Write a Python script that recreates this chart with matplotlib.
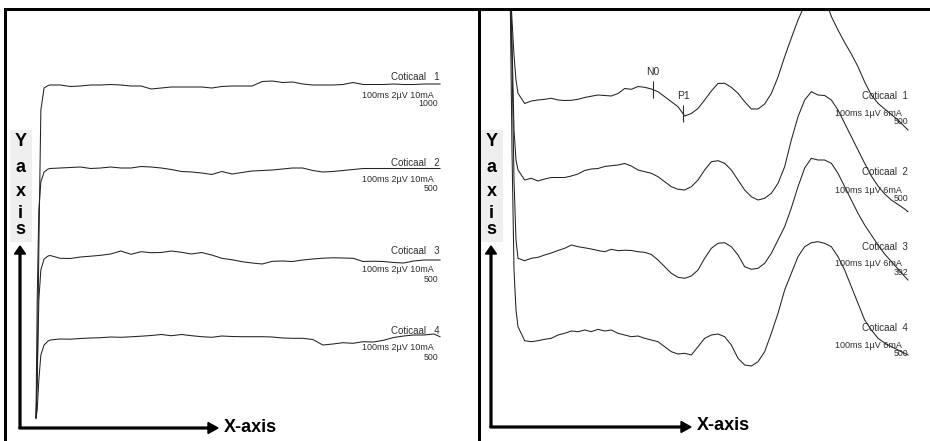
import numpy as np
import matplotlib
matplotlib.use('Agg')
import matplotlib.pyplot as plt
from matplotlib.patches import Rectangle

plt.rcParams['font.family'] = ['Liberation Sans', 'DejaVu Sans']

W, H = 930, 441

# left panel: four sweeps, 100 ms / 2 uV / 10 mA (amplitudes in display units, up = positive)
left_t = np.concatenate([[0, 0.3, 0.7, 1.2, 2, 3], np.arange(3.5, 100, 2.5), [100]])
left_1 = [-333, -295, -165, -25, -3, -0.5,
          0, 0, -1.5, -1, 0, 0, 0.5, 0, -1, -1,
          -4, -3, -2, -2, -2, -2, -3, -1.5, -1, -1,
          -1, 3.5, 4, 2.5, 3, 1, 0, 0, 0, 0.5,
          2.5, 0.5, 0.5, 0.5, 1, 0.5, 0.5, 1, 1, 1]
left_2 = [-250, -132, -42, -14, -4, -1,
          -0.5, 0, 0.5, 1, -0.5, 0, 1, 0, 0, 1.5,
          1, 0, -1.5, -3.5, -4, -5, -6.5, -3.5, -6, -4.5,
          -3, -2.5, -2, -1, 0, 0, -2.5, -4, -3.5, -2.5,
          -1.5, -0.5, -0.5, -0.5, -0.5, -0.5, -0.5, -0.5, -0.5, -0.5]
left_3 = [-160, -122, -42, -12, -1, 2,
          2.5, -0.3, -0.5, 1, 1.8, 2.7, 4, 7, 3.7, 6.3,
          5.3, 5.5, 7, 5.7, 4, 5.5, 3, -0.3, -1.7, -3.7,
          -5, -6, -3.3, -3, -3.5, -2, -1, -0.2, 0.2, 0,
          -0.3, -3.5, -3.2, -3.5, -4.5, -5, -3, -2, -2, -2]
left_4 = [-81, -73, -43, -18, -8, -4,
          -3, -2, -2.2, -1.5, -1, -0.7, 0, -0.3, 0.2, 0.8,
          1.5, 2.5, 1.3, 2.5, 1.3, 0.3, -0.3, 1, 0.5, 0.3,
          0.3, 0.3, 0, -1, -1.3, -1.3, -2.5, -8, -7, -5.7,
          -6.3, -4.7, -5, -3.3, -0.5, 1, 2, 2, 3, 0.3]
left_names = ['Coticaal   1', 'Coticaal   2', 'Coticaal   3', 'Coticaal   4']
left_info = '100ms 2µV 10mA'
left_counts = ['1000', '500', '500', '500']

# right panel: four sweeps, 100 ms / 1 uV / 6 mA
right_t = np.concatenate([[0, 0.5, 1, 1.5], 2 + np.arange(59) * 5 / 3, [99.5]])
right_1 = [120, 80, 45, 20,
           6.7, -3.5, -1, 0, 0.7, 1.7, 0, -0.5, -0.3, 0.7,
           2.5, 3.8, 5, 4.5, 4, 6.5, 11.5, 10.7, 13.5, 12.7,
           11, 8.3, 3.3, -1.7, -6.7, -16, -13.5, -8.5, 0, 9,
           16.5, 16.7, 12.7, 6.7, -1.7, -9, -9, -4, 6.5, 23,
           43.3, 62, 80, 95, 108, 114, 103, 83.5, 70, 57.5,
           46, 33.3, 18, 5, -3.3, -9, -14.5, -20, -26.7,
           -30]
right_2 = [198, 138, 48, 18,
           8, -2, -0.3, -3, -1, 0.5, 0.5, 0.5, 2, 4,
           7.5, 9, 9.5, 11.5, 12.3, 13, 14.5, 12, 8, 6.3,
           4.7, 1.3, -3.7, -8.7, -11.3, -12, -8.7, -2, 8, 16.3,
           17.3, 14.7, 8, -2, -12, -18.7, -22, -20.3, -15.3, -5.3,
           11.3, 38, 61.3, 78, 86.3, 83, 82.5, 78, 68, 54.7,
           41.3, 28, 14.7, 2, -8, -16, -22, -26.5, -31,
           -33.7]
right_3 = [272, 192, 72, 12,
           -6.3, -8.7, -6.3, -5.3, -3, -1, 1.5, 3.7, 7, 5.3,
           4.2, 3, 1.5, 0.3, 2.7, 1.3, 1.8, 1.5, 0.3, -0.3,
           -2.5, -8, -14.7, -21.3, -25.3, -26.3, -24, -18, -6.3, 3.7,
           8.7, 9.3, 5.3, -3, -14.7, -17.3, -16.3, -11.3, -1.3, 12,
           25.3, 44, 65.3, 84, 93.7, 92, 92, 88.7, 78.7, 65.3,
           52, 38.7, 27, 17, 7, -2, -9.5, -17, -24.5,
           -28]
right_4 = [354, 184, 64, 24,
           7.3, -6.7, -7.7, -6.7, -5.3, -4.3, -1, 0.7, 3, 2.3,
           4, 2.3, 4.7, 3, 4, 0.7, -1, -2.7, -2, -4.3,
           -6, -7.7, -12.7, -17.7, -20, -19.3, -21, -12.7, -4.3, -1,
           0, -2.7, -11, -24.3, -31, -32, -27.7, -17.7, 0.7, 20.7,
           44, 60.7, 77.3, 87.3, 91.3, 92.3, 90.7, 87.3, 77.3, 64,
           47.3, 30.7, 14, 4, -4.3, -9, -12.7, -16, -19.3,
           -21]
right_names = ['Coticaal  1', 'Coticaal  2', 'Coticaal  3', 'Coticaal  4']
right_info = '100ms 1µV 6mA'
right_counts = ['500', '500', '392', '500']
peak_names = ['N0', 'P1']
peak_times = [35.75, 43.25]

# layout (pixels of the 930x441 picture)
left_base = [85, 168, 258, 337]
right_base = [100, 178, 252, 334]
left_lab_y = [(77, 95.5, 103.5), (163, 180, 188.5), (251.5, 269.5, 279), (331.5, 348, 358)]
right_lab_y = [(96.3, 113, 121.5), (172, 190.5, 198.5), (246.7, 263.5, 272.5), (328, 346, 354)]
INK = '#222222'
TXT = '#2e2e2e'


def panel_axes(fig, box, t0_px, px_per_ms):
    x0, y0, x1, y1 = box
    ax = fig.add_axes([x0 / W, 1 - y1 / H, (x1 - x0) / W, (y1 - y0) / H])
    ax.set_xlim((x0 - t0_px) / px_per_ms, (x1 - t0_px) / px_per_ms)
    ax.set_ylim(y1, y0)
    ax.axis('off')
    return ax


def labels(ax, names, info, counts, lab_y, x_name, x_info, x_count):
    for name, count, (yn, yi, yc) in zip(names, counts, lab_y):
        ax.text(x_name, yn, name, ha='right', va='center', fontsize=7, color=TXT)
        ax.text(x_info, yi, info, ha='right', va='center', fontsize=6.5, color=TXT)
        ax.text(x_count, yc, count, ha='right', va='center', fontsize=6.3, color=TXT)


def axis_key(ax, x_label_box, x_arrow, x_tip, y_line, x_text):
    ax.add_patch(Rectangle((x_label_box, 130), 22, 112, color='#efefef', lw=0))
    for ch, yy in zip('Yaxis', [141, 167, 192, 213, 230]):
        ax.text(x_arrow + 0.5, yy, ch, ha='center', va='center', fontsize=13,
                fontweight='bold', color='black')
    ax.arrow(x_arrow, y_line, 0, 246 - y_line, width=1.8, head_width=11, head_length=8,
             length_includes_head=True, color='black')
    ax.arrow(x_arrow - 1, y_line, x_tip - x_arrow + 1, 0, width=1.8, head_width=11,
             head_length=10, length_includes_head=True, color='black')
    ax.text(x_text, y_line - 1, 'X-axis', ha='left', va='center', fontsize=13,
            fontweight='bold', color='black')


fig = plt.figure(figsize=(W / 100, H / 100), dpi=100)
frame = fig.add_axes([0, 0, 1, 1])
frame.set_xlim(0, W)
frame.set_ylim(H, 0)
frame.axis('off')

for r in [(4, 8, W - 4, 3), (4, 8, 3, H - 8), (478, 8, 3, H - 8)]:
    frame.add_patch(Rectangle(r[:2], r[2], r[3], color='black', lw=0))

axis_key(frame, 10, 20, 218, 428, 224)
axis_key(frame, 481, 491, 691, 427, 697)
labels(frame, left_names, left_info, left_counts, left_lab_y, 440, 434, 438)
labels(frame, right_names, right_info, right_counts, right_lab_y, 908, 902, 908)

ax_l = panel_axes(fig, (7, 11, 478, H), 36, 4.04)
for vals, base in zip([left_1, left_2, left_3, left_4], left_base):
    ax_l.plot(left_t, base - np.asarray(vals), color=INK, lw=0.75)

ax_r = panel_axes(fig, (481, 11, W, H), 510, 4.0)
for vals, base in zip([right_1, right_2, right_3, right_4], right_base):
    ax_r.plot(right_t, base - np.asarray(vals), color=INK, lw=0.75)

# N0 / P1 markers on the first right sweep
y1 = right_base[0] - np.asarray(right_1)
for name, tm in zip(peak_names, peak_times):
    yc = np.interp(tm, right_t, y1)
    ax_r.vlines(tm, yc - 8.5, yc + 8.5, color=TXT, lw=0.8)
    ax_r.text(tm, yc - 17.5, name, ha='center', va='center', fontsize=7.5, color=TXT)

fig.savefig('out.png', dpi=100)
